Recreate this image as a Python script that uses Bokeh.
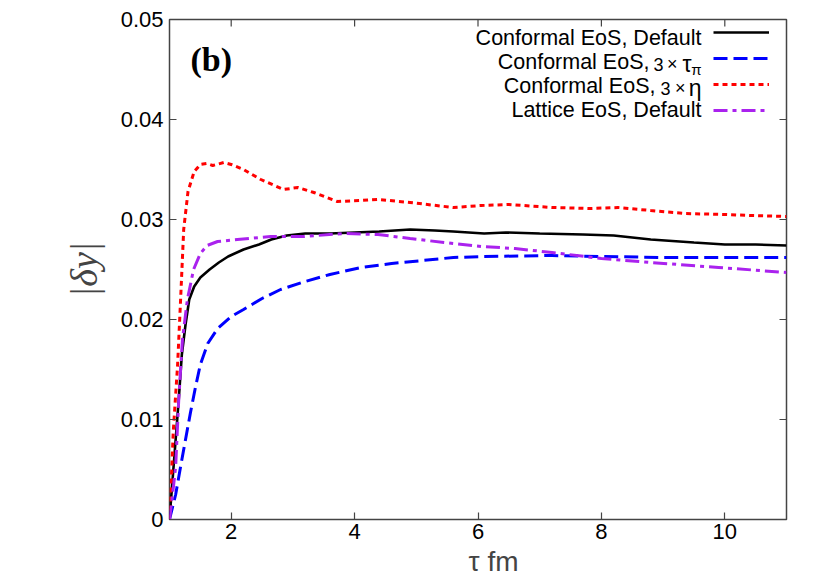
import math
from bokeh.plotting import figure
from bokeh.models import Label, FixedTicker, Legend, LegendItem
from bokeh.embed import file_html
from bokeh.resources import INLINE

# ---- data ----
tau_conf_default = [1.0, 1.05, 1.1, 1.15, 1.2, 1.26, 1.32, 1.4, 1.5, 1.65, 1.8, 1.95, 2.2,
                    2.45, 2.65, 2.9, 3.2, 3.6, 4.0, 4.4, 4.9, 5.3, 5.6, 6.1, 6.45, 7.0,
                    7.7, 8.2, 8.8, 9.5, 10.0, 10.5, 11.0]
dy_conf_default = [0.0, 0.004, 0.008, 0.012, 0.0165, 0.0195, 0.022, 0.0233, 0.0242, 0.025,
                   0.0257, 0.0263, 0.027, 0.0275, 0.028, 0.0284, 0.0286, 0.0286, 0.0287,
                   0.0288, 0.029, 0.0289, 0.0288, 0.0286, 0.0287, 0.0286, 0.0285, 0.0284,
                   0.028, 0.0277, 0.0275, 0.0275, 0.0274]

tau_conf_taupi = [1.0, 1.1, 1.18, 1.26, 1.34, 1.42, 1.5, 1.62, 1.78, 2.0, 2.2, 2.5, 2.8,
                  3.2, 3.6, 4.1, 4.6, 5.1, 5.6, 6.1, 7.2, 8.0, 9.0, 10.0, 11.0]
dy_conf_taupi = [0.0, 0.0025, 0.0053, 0.008, 0.0107, 0.0132, 0.0155, 0.0176, 0.0191, 0.0203,
                 0.021, 0.0221, 0.023, 0.0238, 0.0245, 0.0252, 0.0256, 0.0259, 0.0262,
                 0.0263, 0.0264, 0.0263, 0.0262, 0.0262, 0.0262]

tau_conf_eta = [1.0, 1.03, 1.06, 1.1, 1.13, 1.18, 1.23, 1.3, 1.4, 1.5, 1.6, 1.7, 1.88, 2.0,
                2.2, 2.48, 2.85, 3.08, 3.34, 3.72, 4.1, 4.38, 4.9, 5.6, 6.05, 6.5, 7.2,
                7.8, 8.27, 8.8, 9.35, 10.0, 10.43, 11.0]
dy_conf_eta = [0.0, 0.004, 0.0087, 0.0125, 0.0153, 0.022, 0.029, 0.0328, 0.0348, 0.0355,
               0.0356, 0.0354, 0.0357, 0.0355, 0.035, 0.034, 0.033, 0.0332, 0.0327, 0.0318,
               0.0319, 0.032, 0.0317, 0.0312, 0.0314, 0.0315, 0.0312, 0.0311, 0.0312,
               0.0309, 0.0306, 0.0305, 0.0304, 0.0303]

tau_lattice = [1.0, 1.05, 1.1, 1.15, 1.21, 1.29, 1.39, 1.5, 1.61, 1.78, 2.1, 2.64, 3.18,
               3.82, 4.38, 4.9, 5.45, 6.05, 6.6, 7.2, 8.0, 8.8, 9.9, 11.0]
dy_lattice = [0.0, 0.0025, 0.0053, 0.012, 0.018, 0.022, 0.025, 0.0266, 0.0274, 0.0278,
              0.028, 0.0283, 0.0283, 0.0286, 0.0285, 0.0281, 0.0277, 0.0273, 0.0271,
              0.0267, 0.0261, 0.0257, 0.0252, 0.0247]

x_ticks = [2, 4, 6, 8, 10]
y_ticks = [0, 0.01, 0.02, 0.03, 0.04, 0.05]
y_tick_labels = ["0", "0.01", "0.02", "0.03", "0.04", "0.05"]

FONT = "Liberation Sans"
FRAME = "#444444"
X0, X1, Y0, Y1 = 1, 11, 0, 0.05

p = figure(width=822, height=579, x_range=(X0, X1), y_range=(Y0, Y1),
           output_backend="svg", toolbar_location=None,
           min_border_left=169, min_border_right=36, min_border_top=19,
           min_border_bottom=59, background_fill_color="white",
           border_fill_color="white")
p.grid.visible = False
p.outline_line_color = FRAME
p.outline_line_width = 1.5

for ax, ticks in ((p.xaxis[0], x_ticks), (p.yaxis[0], y_ticks)):
    ax.ticker = FixedTicker(ticks=ticks)
    ax.axis_line_color = None
    ax.major_tick_in = 7
    ax.major_tick_out = 0
    ax.major_tick_line_color = FRAME
    ax.major_tick_line_width = 1.2
    ax.minor_tick_line_color = None
    ax.major_label_text_font = FONT
    ax.major_label_text_color = "black"
    ax.major_label_text_font_size = "22px"

p.xaxis.major_label_standoff = 4
p.yaxis.major_label_standoff = 6
p.yaxis.major_label_overrides = {t: s for t, s in zip(y_ticks, y_tick_labels)}

# x title sits slightly right of centre in the reference
p.xaxis.axis_label = "\u00a0\u00a0\u00a0\u00a0τ fm"
p.xaxis.axis_label_text_font = FONT
p.xaxis.axis_label_text_font_style = "normal"
p.xaxis.axis_label_text_font_size = "28px"
p.xaxis.axis_label_standoff = 4

p.yaxis.axis_label = "|δy|"
p.yaxis.axis_label_text_font = "Liberation Serif"
p.yaxis.axis_label_text_font_style = "italic"
p.yaxis.axis_label_text_font_size = "38px"
p.yaxis.axis_label_standoff = 13

# inward ticks on the top and right edges of the frame
p.ray(x=x_ticks, y=[Y1] * len(x_ticks), length=7, length_units="screen",
      angle=-math.pi / 2, line_color=FRAME, line_width=1.2)
p.ray(x=[X1] * len(y_ticks), y=y_ticks, length=7, length_units="screen",
      angle=math.pi, line_color=FRAME, line_width=1.2)

r_black = p.line(tau_conf_default, dy_conf_default, line_color="black", line_width=2.6)
r_blue = p.line(tau_conf_taupi, dy_conf_taupi, line_color="#0000ff", line_width=3,
                line_dash="14 6")
r_red = p.line(tau_conf_eta, dy_conf_eta, line_color="#ff0000", line_width=3,
               line_dash="5 4")
r_purple = p.line(tau_lattice, dy_lattice, line_color="#aa22ee", line_width=3,
                  line_dash="14 5 4 5")

legend = Legend(items=[LegendItem(label=" ", renderers=[r]) for r in
                       [r_black, r_blue, r_red, r_purple]],
                location=(544, 397), orientation="vertical",
                glyph_width=56, glyph_height=24, spacing=2, padding=0, margin=0,
                label_standoff=0, label_width=0, label_height=24,
                label_text_font_size="1px", border_line_color=None,
                background_fill_alpha=0)
p.add_layout(legend)

# legend texts (right aligned, left of the samples)
lx = 9.622
rows = [0.048104, 0.045709, 0.043313, 0.040918]

def lab(text, y, size, xoff=0, yoff=0, font=FONT):
    p.add_layout(Label(x=lx, y=y, text=text, text_align="right",
                       text_baseline="middle", text_font=font,
                       text_font_size=size, text_color="black",
                       x_offset=xoff, y_offset=yoff))

lab("Conformal EoS, Default", rows[0], "21.5px")
lab("Conformal EoS,", rows[1], "21.5px", xoff=-52)
lab("3", rows[1], "18px", xoff=-38, yoff=-2)
lab("×", rows[1], "18px", xoff=-24, yoff=-2)
lab("τ", rows[1], "23px", xoff=-10, yoff=-2)
lab("π", rows[1], "15px", xoff=0, yoff=-7)
lab("Conformal EoS,", rows[2], "21.5px", xoff=-46)
lab("3", rows[2], "18px", xoff=-31, yoff=-2)
lab("×", rows[2], "18px", xoff=-16, yoff=-2)
lab("η", rows[2], "23px", xoff=0, yoff=-2)
lab("Lattice EoS, Default", rows[3], "21.5px")

p.add_layout(Label(x=1.34, y=0.04601, text="(b)", text_font="Liberation Serif",
                   text_font_style="bold", text_font_size="34px",
                   text_baseline="middle", text_align="left", text_color="black"))

open("out.html", "w").write(file_html(p, INLINE))
